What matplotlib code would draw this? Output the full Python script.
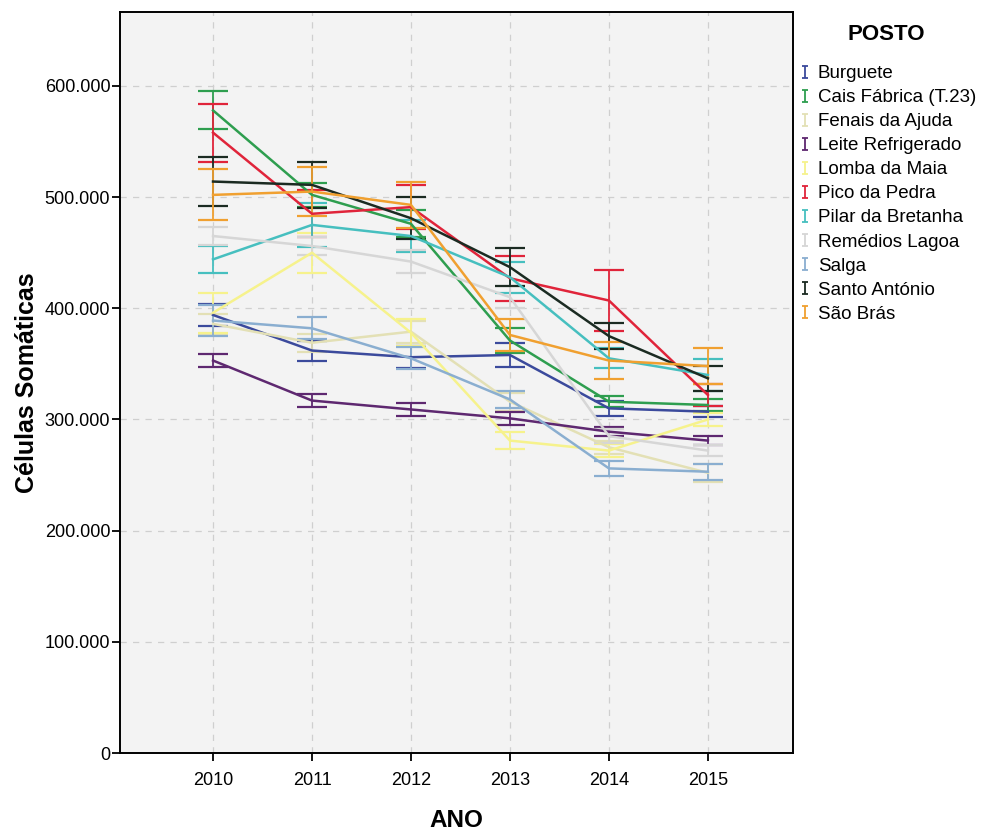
import matplotlib
matplotlib.use("Agg")
import matplotlib.pyplot as plt
from matplotlib.lines import Line2D
from matplotlib.path import Path
from matplotlib.ticker import FuncFormatter

plt.rcParams['font.family'] = ['Liberation Sans', 'DejaVu Sans']

anos = [2010, 2011, 2012, 2013, 2014, 2015]
postos = ["Burguete", "Cais Fábrica (T.23)", "Fenais da Ajuda", "Leite Refrigerado",
          "Lomba da Maia", "Pico da Pedra", "Pilar da Bretanha", "Remédios Lagoa",
          "Salga", "Santo António", "São Brás"]

burguete_mean = [394000, 362000, 356000, 358000, 310000, 307000]
burguete_err = [10000, 9000, 10000, 11000, 7000, 5000]
cais_mean = [578000, 502000, 476000, 371000, 316000, 313000]
cais_err = [17000, 11000, 12000, 11000, 5000, 5000]
fenais_mean = [386000, 369000, 379000, 316000, 275000, 252000]
fenais_err = [9000, 8000, 10000, 8000, 6000, 8000]
leite_mean = [353000, 317000, 309000, 301000, 289000, 281000]
leite_err = [6000, 6000, 6000, 6000, 4000, 4000]
lomba_mean = [396000, 450000, 378000, 281000, 272000, 300000]
lomba_err = [18000, 18000, 12000, 8000, 6000, 6000]
pico_mean = [558000, 485000, 491000, 427000, 407000, 322000]
pico_err = [26000, 21000, 20000, 20000, 27000, 10000]
pilar_mean = [444000, 475000, 465000, 428000, 355000, 340000]
pilar_err = [12000, 20000, 14000, 14000, 9000, 14000]
remedios_mean = [465000, 456000, 442000, 410000, 285000, 272000]
remedios_err = [8000, 8000, 10000, 10000, 6000, 5000]
salga_mean = [389000, 382000, 355000, 318000, 256000, 253000]
salga_err = [14000, 10000, 10000, 8000, 7000, 7000]
santo_mean = [514000, 511000, 481000, 437000, 375000, 337000]
santo_err = [22000, 21000, 19000, 17000, 12000, 11000]
saobras_mean = [502000, 505000, 493000, 376000, 353000, 348000]
saobras_err = [23000, 22000, 21000, 14000, 17000, 16000]

means = [burguete_mean, cais_mean, fenais_mean, leite_mean, lomba_mean, pico_mean,
         pilar_mean, remedios_mean, salga_mean, santo_mean, saobras_mean]
errs = [burguete_err, cais_err, fenais_err, leite_err, lomba_err, pico_err,
        pilar_err, remedios_err, salga_err, santo_err, saobras_err]
colors = ['#3b4a9c', '#2e9e4f', '#e3e0b5', '#5e2870', '#f6f28c', '#e0243a',
          '#46bfbf', '#d6d6d6', '#8aaed0', '#1b2b22', '#f0a030']

fig = plt.figure(figsize=(9.81, 8.34), dpi=100)
ax = fig.add_axes([120/981, 1-753/834, (793-120)/981, (753-12)/834])
ax.set_facecolor('#f3f3f3')

for m, e, c in zip(means, errs, colors):
    ax.errorbar(anos, m, yerr=e, color=c, lw=1.8, elinewidth=1.3,
                capsize=11, capthick=1.6, zorder=3)

ax.set_xlim(2009.06, 2015.86)
ax.set_ylim(0, 666500)
ax.set_xticks(anos)
ax.set_yticks([0, 100000, 200000, 300000, 400000, 500000, 600000])
ax.yaxis.set_major_formatter(FuncFormatter(
    lambda v, p: '0' if v == 0 else f"{int(v):,}".replace(',', '.')))
ax.grid(True, color='#cfcfcf', linestyle=(0, (5, 5)), linewidth=0.9, zorder=0)
ax.set_axisbelow(True)
for s in ax.spines.values():
    s.set_linewidth(1.4)
    s.set_color('black')
ax.tick_params(axis='both', direction='out', length=6, width=1.3, labelsize=13,
               colors='black')
ax.tick_params(axis='x', pad=8)
ax.tick_params(axis='y', pad=1)
ax.set_xlabel('ANO', fontsize=17.5, fontweight='bold', labelpad=14)
ax.set_ylabel('Células Somáticas', fontsize=18, fontweight='bold', labelpad=4)

ibar = Path([(-0.45, -1), (0.45, -1), (0, -1), (0, 1), (-0.45, 1), (0.45, 1)],
            [Path.MOVETO, Path.LINETO, Path.MOVETO, Path.LINETO, Path.MOVETO, Path.LINETO])
handles = [Line2D([], [], linestyle='none', marker=ibar, markersize=9,
                  markeredgewidth=1.3, markeredgecolor=c, markerfacecolor='none')
           for c in colors]
leg = fig.legend(handles, postos, loc='upper left', bbox_to_anchor=(797/981, 1-65/834),
                 frameon=False, fontsize=13.5, handlelength=0.8, handletextpad=0.3,
                 labelspacing=0.37, borderaxespad=0, borderpad=0)
fig.text(886/981, 1-35/834, 'POSTO', fontsize=16, fontweight='bold',
         ha='center', va='center')

fig.savefig('out.png', dpi=100, facecolor='white')
